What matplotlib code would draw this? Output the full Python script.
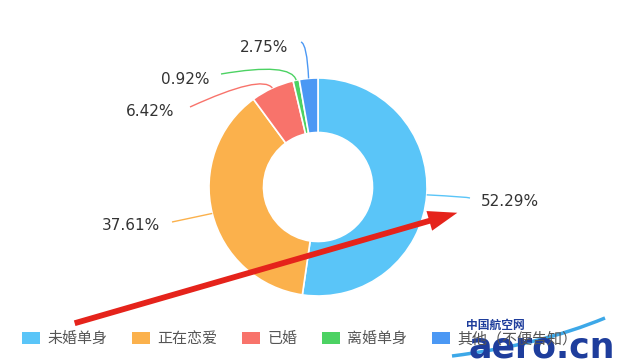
import numpy as np
import matplotlib.pyplot as plt
from matplotlib.path import Path
from matplotlib.patches import PathPatch, Patch, FancyArrowPatch

plt.rcParams['font.family'] = ['Noto Sans CJK SC', 'DejaVu Sans']

W, H = 620, 363

labels = ['未婚单身', '正在恋爱', '已婚', '离婚单身', '其他（不便告知）']
values = [52.29, 37.61, 6.42, 0.92, 2.75]
colors = ['#5AC5F8', '#FBB14C', '#F8736B', '#4CD263', '#4B98F4']

# layout in image pixels (y down)
center = (318, 187)
radius = 109
label_pos = [(510, 202), (131, 226), (150, 111), (185, 80), (264, 47)]
elbow_pos = [(468, 197), (205, 215), (262, 74), (291, 62), (307, 44)]
anchor_pos = [(470, 198), (172, 222), (190, 107), (221, 74), (301, 42)]


def fy(y):
    return H - y


fig = plt.figure(figsize=(6.2, 3.63), dpi=100)
ax = fig.add_axes([0, 0, 1, 1])

wedges, _ = ax.pie(values, colors=colors, startangle=90, counterclock=False,
                   center=(center[0], fy(center[1])), radius=radius,
                   wedgeprops=dict(width=radius * 0.5, edgecolor='white', linewidth=1.2),
                   frame=True)
ax.set_xlim(0, W)
ax.set_ylim(0, H)
ax.set_aspect('equal')
ax.axis('off')

# leader lines + percentage labels
for w, col, lp, ep, ap, v in zip(wedges, colors, label_pos, elbow_pos, anchor_pos, values):
    mid = np.deg2rad((w.theta1 + w.theta2) / 2)
    ex = center[0] + radius * np.cos(mid)
    ey = fy(center[1]) + radius * np.sin(mid)
    verts = [(ap[0], fy(ap[1])), (ep[0], fy(ep[1])), (ex, ey)]
    path = Path(verts, [Path.MOVETO, Path.CURVE3, Path.CURVE3])
    ax.add_patch(PathPatch(path, fill=False, edgecolor=col, lw=1.0))
    ax.text(lp[0], fy(lp[1]), f'{v:.2f}%', ha='center', va='center',
            fontsize=11, color='#333333', family='DejaVu Sans')

# red arrow
arrow = FancyArrowPatch((72, fy(324)), (460, fy(212)),
                        arrowstyle='simple,tail_width=0.3,head_width=1.05,head_length=1.5',
                        mutation_scale=14, color='#E5231B', lw=0, zorder=5)
ax.add_patch(arrow)

handles = [Patch(facecolor=c, edgecolor='none') for c in colors]
fig.legend(handles, labels, loc='center left', bbox_to_anchor=(22 / W, 1 - 339 / H),
           ncol=5, frameon=False, fontsize=10.8, labelcolor='#555555',
           handlelength=1.2, handleheight=0.87, handletextpad=0.47,
           columnspacing=1.67, borderaxespad=0, borderpad=0)

# watermark
swoosh = Path([(452, fy(356)), (540, fy(345)), (605, fy(318))],
              [Path.MOVETO, Path.CURVE3, Path.CURVE3])
ax.add_patch(PathPatch(swoosh, fill=False, edgecolor='#3DA8E8', lw=2.5, zorder=9))
ax.text(495, fy(325), '中国航空网', ha='center', va='center', fontsize=8.5,
        fontweight='bold', color='#1E3D9C', zorder=10)
ax.text(542, fy(357), 'aero.cn', ha='center', va='baseline', fontsize=25,
        fontweight='bold', color='#1E3D9C', family='DejaVu Sans', zorder=10)

fig.savefig('out.png', dpi=100, facecolor='white')
